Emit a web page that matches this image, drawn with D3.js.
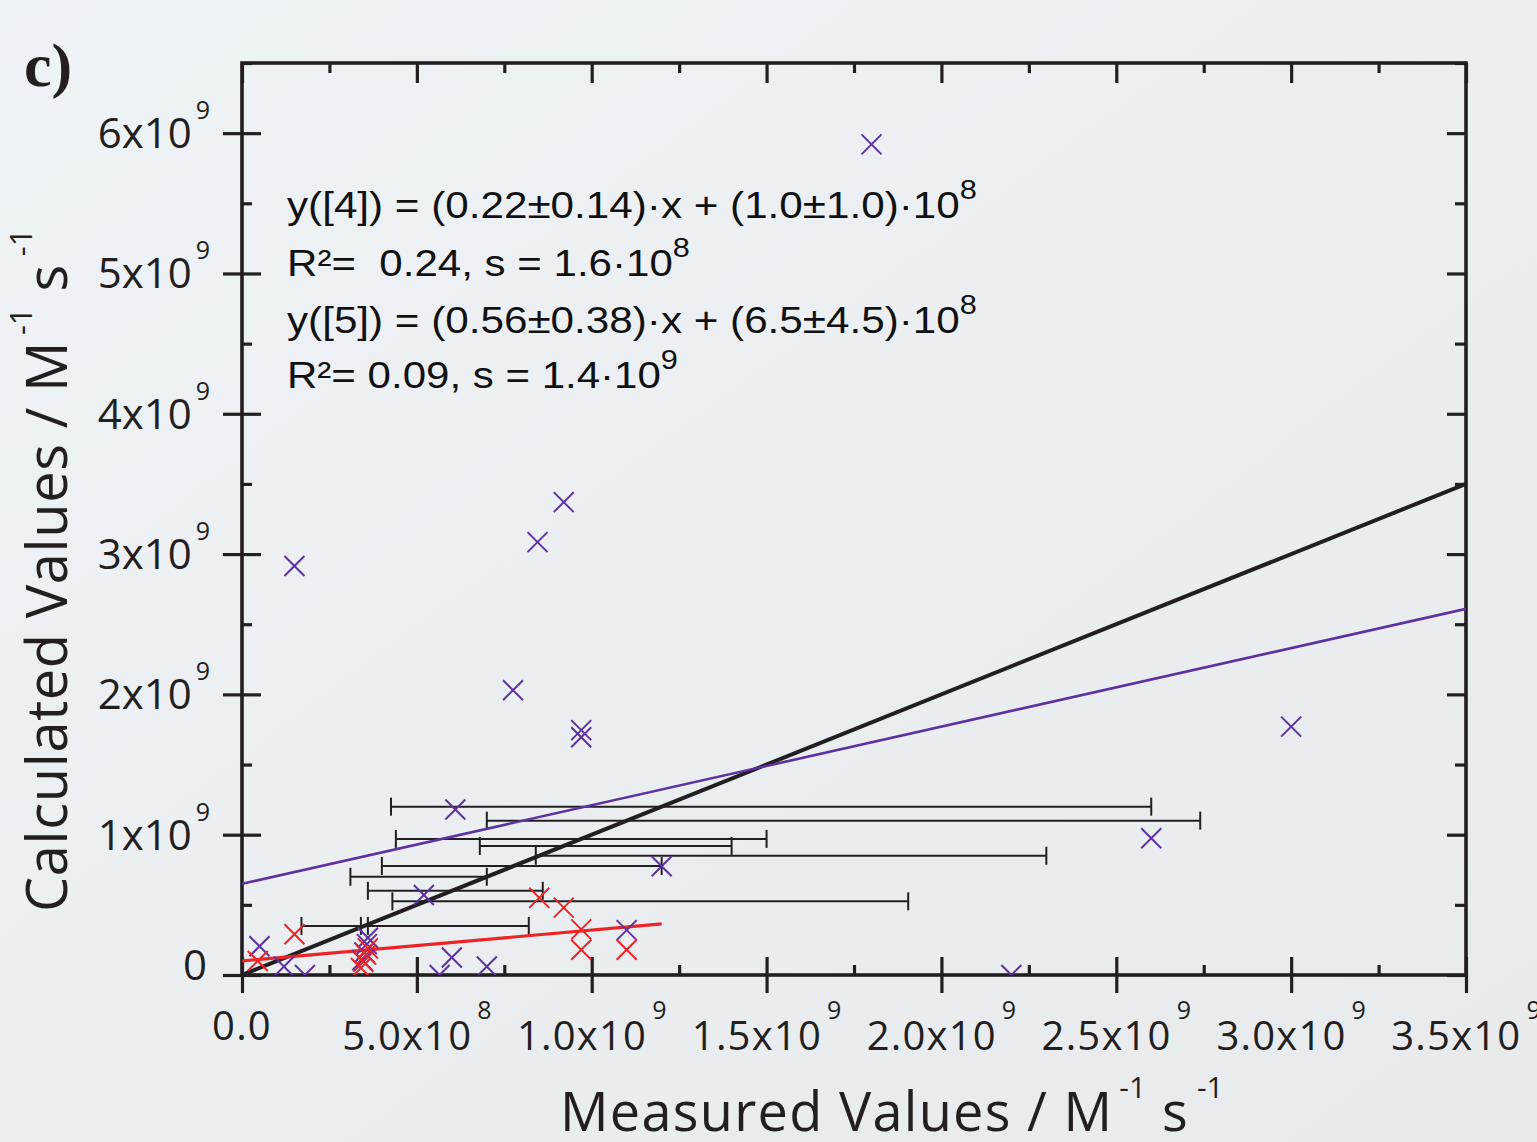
<!DOCTYPE html>
<html>
<head>
<meta charset="utf-8">
<script src="https://cdn.jsdelivr.net/npm/d3@7"></script>
<style>
  html, body { margin: 0; padding: 0; }
  body { width: 1537px; height: 1142px; overflow: hidden; }
  text { white-space: pre; }
</style>
</head>
<body>
<svg id="chart" width="1537" height="1142"></svg>
<script>
// ---- data (rate constants, M^-1 s^-1) ----
// series [5], purple crosses
const purpleX = [1.80e9, 0.15e9, 0.92e9, 0.845e9, 0.775e9, 0.97e9, 0.97e9, 3.0e9, 0.61e9, 2.6e9,
                 1.2e9, 0.52e9, 1.1e9, 0.05e9, 0.60e9, 0.70e9, 0.12e9, 0.18e9, 0.565e9, 2.2e9,
                 0.36e9, 0.357e9, 0.35e9, 0.344e9];
const purpleY = [5.92e9, 2.915e9, 3.37e9, 3.085e9, 2.03e9, 1.745e9, 1.695e9, 1.77e9, 1.18e9, 0.975e9,
                 0.775e9, 0.57e9, 0.32e9, 0.205e9, 0.125e9, 0.06e9, 0.06e9, 0.0, 0.0, 0.0,
                 0.265e9, 0.22e9, 0.16e9, 0.105e9];
// series [4], red crosses
const redX = [0.85e9, 0.92e9, 0.97e9, 0.97e9, 1.10e9, 0.15e9, 0.045e9, 0.36e9, 0.355e9, 0.347e9, 0.34e9];
const redY = [0.55e9, 0.48e9, 0.325e9, 0.18e9, 0.18e9, 0.29e9, 0.10e9, 0.19e9, 0.145e9, 0.095e9, 0.05e9];
// ranges of the measured values (horizontal bars)
const errY  = [1.20e9, 1.10e9, 0.97e9, 0.92e9, 0.85e9, 0.777e9, 0.70e9, 0.60e9, 0.525e9, 0.35e9, 0.35e9];
const errLo = [0.426e9, 0.70e9, 0.44e9, 0.68e9, 0.84e9, 0.40e9, 0.31e9, 0.36e9, 0.43e9, 0.17e9, 0.36e9];
const errHi = [2.60e9, 2.74e9, 1.50e9, 1.40e9, 2.30e9, 1.20e9, 0.70e9, 0.86e9, 1.905e9, 0.34e9, 0.82e9];
// linear fits: [slope, intercept, x from, x to]
const fitIdentity = [1.0, 0, 0, 3.5e9];
const fit5 = [0.56, 6.5e8, 0, 3.5e9];
const fit4 = [0.22, 1.0e8, 0, 1.2e9];
// axes
const xMajor = [0, 0.5e9, 1.0e9, 1.5e9, 2.0e9, 2.5e9, 3.0e9, 3.5e9];
const xMinor = [0.25e9, 0.75e9, 1.25e9, 1.75e9, 2.25e9, 2.75e9, 3.25e9];
const xTickText = ["0.0", "5.0x10", "1.0x10", "1.5x10", "2.0x10", "2.5x10", "3.0x10", "3.5x10"];
const xTickExp  = ["", "8", "9", "9", "9", "9", "9", "9"];
const yMajor = [0, 1e9, 2e9, 3e9, 4e9, 5e9, 6e9];
const yMinor = [0.5e9, 1.5e9, 2.5e9, 3.5e9, 4.5e9, 5.5e9, 6.5e9];
const yTickText = ["0", "1x10", "2x10", "3x10", "4x10", "5x10", "6x10"];
const yTickExp  = ["", "9", "9", "9", "9", "9", "9"];
// fit statistics, as [text, superscript] pieces per line
const eqLines = [
  [["y([4]) = (0.22\u00b10.14)\u00b7x + (1.0\u00b11.0)\u00b710", "8"]],
  [["R\u00b2=  0.24, s = 1.6\u00b710", "8"]],
  [["y([5]) = (0.56\u00b10.38)\u00b7x + (6.5\u00b14.5)\u00b710", "8"]],
  [["R\u00b2= 0.09, s = 1.4\u00b710", "9"]]
];

(function draw() {
  const INK = "#231f20", PURPLE = "#5e31a3", RED = "#ee2326";
  const svg = d3.select("#chart");

  // background
  const defs = svg.append("defs");
  const grad = defs.append("linearGradient").attr("id", "bg")
    .attr("x1", 0).attr("y1", 0).attr("x2", 1).attr("y2", 1);
  grad.append("stop").attr("offset", 0).attr("stop-color", "#eef3f7");
  grad.append("stop").attr("offset", 1).attr("stop-color", "#e8eaec");
  svg.append("rect").attr("width", 1537).attr("height", 1142).attr("fill", "url(#bg)");

  const pL = 242, pR = 1466, pT = 63, pB = 975;
  const x = d3.scaleLinear().domain([0, 3.5e9]).range([pL, pR]);
  const y = d3.scaleLinear().domain([0, 6.5e9]).range([pB, pT]);

  defs.append("clipPath").attr("id", "plotclip").append("rect")
    .attr("x", pL).attr("y", pT).attr("width", pR - pL).attr("height", pB - pT);

  // ---- ticks (frame on all four sides) ----
  function ticks(axis, tx, ty, values, size) {
    const g = svg.append("g").attr("transform", `translate(${tx},${ty})`)
      .call(axis.tickValues(values).tickSize(size).tickSizeOuter(0).tickFormat(""));
    g.select(".domain").remove();
    g.selectAll(".tick line").attr("stroke", INK).attr("stroke-width", 3.2);
    g.selectAll(".tick text").remove();
  }
  // bottom: majors cross the axis, minors inside
  ticks(d3.axisBottom(x), 0, pB, xMajor, 18);
  ticks(d3.axisTop(x), 0, pB, xMajor, 18);
  ticks(d3.axisTop(x), 0, pB, xMinor, 10);
  // top: inside only
  ticks(d3.axisBottom(x), 0, pT, xMajor, 20);
  ticks(d3.axisBottom(x), 0, pT, xMinor, 10);
  // left: majors cross, minors inside
  ticks(d3.axisLeft(y), pL, 0, yMajor, 19);
  ticks(d3.axisRight(y), pL, 0, yMajor, 19);
  ticks(d3.axisRight(y), pL, 0, yMinor, 10);
  // right: inside only
  ticks(d3.axisLeft(y), pR, 0, yMajor, 19);
  ticks(d3.axisLeft(y), pR, 0, yMinor, 11);

  svg.append("rect").attr("x", pL).attr("y", pT)
    .attr("width", pR - pL).attr("height", pB - pT)
    .attr("fill", "none").attr("stroke", INK).attr("stroke-width", 3.6);

  // ---- tick labels ----
  const tickFont = "'Open Sans', 'Noto Sans', sans-serif";
  xMajor.forEach((v, i) => {
    const t = svg.append("text")
      .attr("x", x(v)).attr("y", xTickExp[i] ? 1050 : 1040)
      .attr("text-anchor", "middle").attr("font-family", tickFont)
      .attr("font-size", 40).attr("letter-spacing", 1.2).attr("fill", INK);
    t.append("tspan").text(xTickText[i]);
    if (xTickExp[i]) t.append("tspan").attr("dx", 5).attr("dy", -31)
      .attr("font-size", 25).attr("letter-spacing", 0).text(xTickExp[i]);
  });
  yMajor.forEach((v, i) => {
    const t = svg.append("text")
      .attr("x", yTickExp[i] ? 210 : 207).attr("y", y(v) + (yTickExp[i] ? 15 : 5))
      .attr("text-anchor", "end").attr("font-family", tickFont)
      .attr("font-size", 42).attr("fill", INK);
    t.append("tspan").text(yTickText[i]);
    if (yTickExp[i]) t.append("tspan").attr("dx", 4).attr("dy", -29)
      .attr("font-size", 25).text(yTickExp[i]);
  });

  // ---- axis titles ----
  function unitTitle(g, main, size, spacing) {
    const t = g.append("text").attr("x", 0).attr("y", 0)
      .attr("font-family", tickFont).attr("font-size", size).attr("fill", INK)
      .attr("letter-spacing", spacing);
    t.append("tspan").text(main + " / M");
    t.append("tspan").attr("dx", 6).attr("dy", -size * 0.62).attr("font-size", size * 0.55)
      .attr("letter-spacing", 0).text("-1");
    t.append("tspan").attr("dx", 16).attr("dy", size * 0.62).attr("font-size", size).text("s");
    t.append("tspan").attr("dx", 8).attr("dy", -size * 0.62).attr("font-size", size * 0.55)
      .attr("letter-spacing", 0).text("-1");
    return t;
  }
  unitTitle(svg.append("g").attr("transform", "translate(560,1131)"), "Measured Values", 54, 1.3);
  unitTitle(svg.append("g").attr("transform", "translate(67,912) rotate(-90)"), "Calculated Values", 56, 0.6);

  // panel letter
  svg.append("text").attr("x", 24).attr("y", 86)
    .attr("font-family", "'Liberation Serif', 'Times New Roman', serif")
    .attr("font-weight", "bold").attr("font-size", 62).attr("fill", INK).text("c)");

  // ---- plot contents ----
  const plot = svg.append("g").attr("clip-path", "url(#plotclip)");

  // measured-value ranges
  const bars = plot.append("g").attr("stroke", INK).attr("stroke-width", 2).attr("fill", "none");
  errY.forEach((v, i) => {
    const yy = y(v), x0 = x(errLo[i]), x1 = x(errHi[i]);
    bars.append("line").attr("x1", x0).attr("x2", x1).attr("y1", yy).attr("y2", yy);
    bars.append("line").attr("x1", x0).attr("x2", x0).attr("y1", yy - 9).attr("y2", yy + 9);
    bars.append("line").attr("x1", x1).attr("x2", x1).attr("y1", yy - 9).attr("y2", yy + 9);
  });

  // fit lines
  const line = d3.line().x(d => x(d[0])).y(d => y(d[1]));
  function fitLine(f, color, width) {
    const pts = [f[2], f[3]].map(v => [v, f[0] * v + f[1]]);
    plot.append("path").attr("d", line(pts)).attr("fill", "none")
      .attr("stroke", color).attr("stroke-width", width);
  }
  fitLine(fitIdentity, INK, 4);
  fitLine(fit5, PURPLE, 2.6);
  fitLine(fit4, RED, 3.2);

  // cross markers
  const timesType = d3.symbolTimes || d3.symbolX || {
    draw(ctx, size) {
      const r = Math.sqrt(size - Math.min(size / 7, 2)) * 0.6189;
      ctx.moveTo(-r, -r); ctx.lineTo(r, r); ctx.moveTo(-r, r); ctx.lineTo(r, -r);
    }
  };
  const cross = d3.symbol().type(timesType).size(263);
  function markers(xs, ys, color) {
    plot.append("g").selectAll("path").data(xs.map((v, i) => [v, ys[i]])).join("path")
      .attr("d", cross)
      .attr("transform", d => `translate(${x(d[0])},${y(d[1])})`)
      .attr("fill", "none").attr("stroke", color).attr("stroke-width", 2);
  }
  markers(purpleX, purpleY, PURPLE);
  markers(redX, redY, RED);

  // ---- fit statistics ----
  const eqBase = [218, 276, 333, 388];
  const eqRight = [977, 690, 977, 678];
  eqLines.forEach((parts, i) => {
    const g = svg.append("g");
    const t = g.append("text").attr("x", 0).attr("y", 0)
      .attr("font-family", "'Liberation Sans', Arial, sans-serif")
      .attr("font-size", 37).attr("fill", "#111");
    parts.forEach(([main, sup]) => {
      t.append("tspan").attr("dy", 0).text(main);
      t.append("tspan").attr("dy", -19).attr("font-size", 27).text(sup);
    });
    const w = t.node().getBBox().width;
    const sx = (eqRight[i] - 287) / w;
    g.attr("transform", `translate(287,${eqBase[i]}) scale(${sx},1)`);
  });
})();
</script>
</body>
</html>
